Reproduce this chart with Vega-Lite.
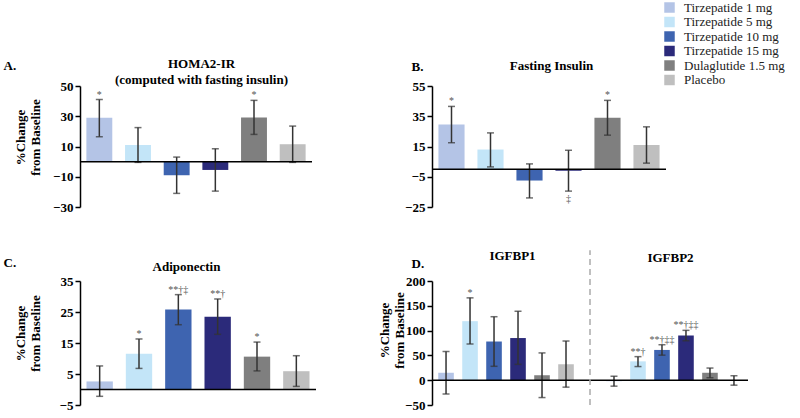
{
  "$schema": "https://vega.github.io/schema/vega-lite/v6.json",
  "autosize": {"type": "none"},
  "padding": {"left": 80, "top": 86, "right": 720, "bottom": 332},
  "background": "white",
  "datasets": {
    "homa": [
      {"treatment": "Tirzepatide 1 mg", "value": 29, "lo": 16.5, "hi": 41, "above": "*"},
      {"treatment": "Tirzepatide 5 mg", "value": 11, "lo": -0.5, "hi": 22.5, "above": ""},
      {"treatment": "Tirzepatide 10 mg", "value": -9, "lo": -21, "hi": 3, "above": ""},
      {"treatment": "Tirzepatide 15 mg", "value": -5.5, "lo": -19.5, "hi": 8.5, "above": ""},
      {"treatment": "Dulaglutide 1.5 mg", "value": 29.2, "lo": 18, "hi": 40.5, "above": "*"},
      {"treatment": "Placebo", "value": 11.5, "lo": -0.5, "hi": 23.5, "above": ""}
    ],
    "insulin": [
      {"treatment": "Tirzepatide 1 mg", "value": 29.5, "lo": 17.5, "hi": 41.5, "above": "*", "below": ""},
      {"treatment": "Tirzepatide 5 mg", "value": 13, "lo": 1.5, "hi": 24, "above": "", "below": ""},
      {"treatment": "Tirzepatide 10 mg", "value": -7.5, "lo": -19, "hi": 3.5, "above": "", "below": ""},
      {"treatment": "Tirzepatide 15 mg", "value": -1, "lo": -14.5, "hi": 12.5, "above": "", "below": "‡"},
      {"treatment": "Dulaglutide 1.5 mg", "value": 34, "lo": 22.5, "hi": 45.5, "above": "*", "below": ""},
      {"treatment": "Placebo", "value": 16, "lo": 4, "hi": 28, "above": "", "below": ""}
    ],
    "adipo": [
      {"treatment": "Tirzepatide 1 mg", "value": 2.6, "lo": -2.2, "hi": 7.6, "above": ""},
      {"treatment": "Tirzepatide 5 mg", "value": 11.5, "lo": 6.8, "hi": 16.3, "above": "*"},
      {"treatment": "Tirzepatide 10 mg", "value": 25.8, "lo": 20.9, "hi": 30.6, "above": "**†‡"},
      {"treatment": "Tirzepatide 15 mg", "value": 23.5, "lo": 17.8, "hi": 29.2, "above": "**†"},
      {"treatment": "Dulaglutide 1.5 mg", "value": 10.6, "lo": 6, "hi": 15.3, "above": "*"},
      {"treatment": "Placebo", "value": 5.9, "lo": 1, "hi": 10.9, "above": ""}
    ],
    "igfbp": [
      {"slot": "IGFBP1 Tirzepatide 1 mg", "treatment": "Tirzepatide 1 mg", "value": 15, "lo": -28, "hi": 58, "above": ""},
      {"slot": "IGFBP1 Tirzepatide 5 mg", "treatment": "Tirzepatide 5 mg", "value": 119, "lo": 73, "hi": 166, "above": "*"},
      {"slot": "IGFBP1 Tirzepatide 10 mg", "treatment": "Tirzepatide 10 mg", "value": 78, "lo": 28, "hi": 128, "above": ""},
      {"slot": "IGFBP1 Tirzepatide 15 mg", "treatment": "Tirzepatide 15 mg", "value": 85, "lo": 32, "hi": 139, "above": ""},
      {"slot": "IGFBP1 Dulaglutide 1.5 mg", "treatment": "Dulaglutide 1.5 mg", "value": 10, "lo": -35, "hi": 55, "above": ""},
      {"slot": "IGFBP1 Placebo", "treatment": "Placebo", "value": 32, "lo": -14, "hi": 79, "above": ""},
      {"slot": "IGFBP2 Tirzepatide 1 mg", "treatment": "Tirzepatide 1 mg", "value": -2, "lo": -12, "hi": 8, "above": ""},
      {"slot": "IGFBP2 Tirzepatide 5 mg", "treatment": "Tirzepatide 5 mg", "value": 38, "lo": 27.5, "hi": 47.5, "above": "**†"},
      {"slot": "IGFBP2 Tirzepatide 10 mg", "treatment": "Tirzepatide 10 mg", "value": 61, "lo": 50.5, "hi": 71.5, "above": "**†‡‡"},
      {"slot": "IGFBP2 Tirzepatide 15 mg", "treatment": "Tirzepatide 15 mg", "value": 90, "lo": 79.5, "hi": 100.5, "above": "**†‡‡"},
      {"slot": "IGFBP2 Dulaglutide 1.5 mg", "treatment": "Dulaglutide 1.5 mg", "value": 15, "lo": 5, "hi": 24.5, "above": ""},
      {"slot": "IGFBP2 Placebo", "treatment": "Placebo", "value": -1, "lo": -10, "hi": 9, "above": ""}
    ]
  },
  "columns": 2,
  "spacing": {"row": 74, "column": 116},
  "bounds": "flush",
  "resolve": {"scale": {"color": "shared"}, "legend": {"color": "shared"}},
  "concat": [
    {
      "width": 232, "height": 121,
      "data": {"name": "homa"},
      "resolve": {"axis": {"x": "independent", "y": "independent"}},
      "layer": [
        {"mark": {"type": "bar"},
         "encoding": {
           "x": {"field": "treatment", "type": "nominal", "sort": null,
                 "scale": {"domain": ["Tirzepatide 1 mg","Tirzepatide 5 mg","Tirzepatide 10 mg","Tirzepatide 15 mg","Dulaglutide 1.5 mg","Placebo"], "paddingInner": 0.33, "paddingOuter": 0.165},
                 "axis": {"orient": "top", "domain": false, "ticks": false, "labels": false, "title": "A.", "titleAngle": 0, "titleAlign": "left", "titleBaseline": "middle", "titleX": -77, "titleY": -21}},
           "y": {"field": "value", "type": "quantitative", "scale": {"domain": [-30, 50], "nice": false, "zero": false},
                 "axis": {"values": [-30, -10, 10, 30, 50], "labelOverlap": false, "title": ["%Change", "from Baseline"], "titleAngle": 270, "titleAlign": "center", "titleBaseline": "middle", "titleX": -60, "titleY": 51}},
           "color": {"field": "treatment", "type": "nominal",
                     "scale": {"domain": ["Tirzepatide 1 mg","Tirzepatide 5 mg","Tirzepatide 10 mg","Tirzepatide 15 mg","Dulaglutide 1.5 mg","Placebo"], "range": ["#b4c4e6","#c3e5f8","#3e64b0","#2b2a7a","#7f7f7f","#bfbfbf"]},
                     "legend": {"orient": "none", "legendX": 583, "legendY": -85, "title": null}}
         }},
        {"mark": {"type": "rule", "color": "#333", "strokeWidth": 1.5},
         "encoding": {
           "x": {"field": "treatment", "type": "nominal", "sort": null,
                 "axis": {"orient": "top", "domain": false, "ticks": false, "labels": false, "title": ["HOMA2-IR", "(computed with fasting insulin)"], "titleAngle": 0, "titleAlign": "center", "titleBaseline": "middle", "titleLineHeight": 16, "titleX": 121, "titleY": -23}},
           "y": {"field": "lo", "type": "quantitative", "axis": null},
           "y2": {"field": "hi"}
         }},
        {"mark": {"type": "tick", "color": "#333", "thickness": 1.5},
         "encoding": {"x": {"field": "treatment", "type": "nominal", "sort": null, "axis": null}, "y": {"field": "lo", "type": "quantitative", "axis": null}, "size": {"value": 7}}},
        {"mark": {"type": "tick", "color": "#333", "thickness": 1.5},
         "encoding": {"x": {"field": "treatment", "type": "nominal", "sort": null, "axis": null}, "y": {"field": "hi", "type": "quantitative", "axis": null}, "size": {"value": 7}}},
        {"data": {"values": [{}]}, "mark": {"type": "rule", "color": "#000", "strokeWidth": 1.5},
         "encoding": {"y": {"datum": 0, "type": "quantitative", "axis": null}}},
        {"mark": {"type": "text", "font": "Liberation Serif", "fontSize": 10, "color": "#555", "baseline": "alphabetic", "dy": -2},
         "encoding": {"x": {"field": "treatment", "type": "nominal", "sort": null, "axis": null}, "y": {"field": "hi", "type": "quantitative", "axis": null}, "text": {"field": "above"}}}
      ]
    },
    {
      "width": 234, "height": 121,
      "data": {"name": "insulin"},
      "resolve": {"axis": {"x": "independent", "y": "independent"}},
      "layer": [
        {"mark": {"type": "bar"},
         "encoding": {
           "x": {"field": "treatment", "type": "nominal", "sort": null,
                 "scale": {"domain": ["Tirzepatide 1 mg","Tirzepatide 5 mg","Tirzepatide 10 mg","Tirzepatide 15 mg","Dulaglutide 1.5 mg","Placebo"], "paddingInner": 0.33, "paddingOuter": 0.165},
                 "axis": {"orient": "top", "domain": false, "ticks": false, "labels": false, "title": "B.", "titleAngle": 0, "titleAlign": "left", "titleBaseline": "middle", "titleX": -21, "titleY": -20}},
           "y": {"field": "value", "type": "quantitative", "scale": {"domain": [-25, 55], "nice": false, "zero": false},
                 "axis": {"values": [-25, -5, 15, 35, 55], "labelOverlap": false, "title": null}},
           "color": {"field": "treatment", "type": "nominal",
                     "scale": {"domain": ["Tirzepatide 1 mg","Tirzepatide 5 mg","Tirzepatide 10 mg","Tirzepatide 15 mg","Dulaglutide 1.5 mg","Placebo"], "range": ["#b4c4e6","#c3e5f8","#3e64b0","#2b2a7a","#7f7f7f","#bfbfbf"]},
                     "legend": {"orient": "none", "legendX": 583, "legendY": -85, "title": null}}
         }},
        {"mark": {"type": "rule", "color": "#333", "strokeWidth": 1.5},
         "encoding": {
           "x": {"field": "treatment", "type": "nominal", "sort": null,
                 "axis": {"orient": "top", "domain": false, "ticks": false, "labels": false, "title": "Fasting Insulin", "titleAngle": 0, "titleAlign": "center", "titleBaseline": "middle", "titleX": 119, "titleY": -21}},
           "y": {"field": "lo", "type": "quantitative", "axis": null},
           "y2": {"field": "hi"}
         }},
        {"mark": {"type": "tick", "color": "#333", "thickness": 1.5},
         "encoding": {"x": {"field": "treatment", "type": "nominal", "sort": null, "axis": null}, "y": {"field": "lo", "type": "quantitative", "axis": null}, "size": {"value": 7}}},
        {"mark": {"type": "tick", "color": "#333", "thickness": 1.5},
         "encoding": {"x": {"field": "treatment", "type": "nominal", "sort": null, "axis": null}, "y": {"field": "hi", "type": "quantitative", "axis": null}, "size": {"value": 7}}},
        {"data": {"values": [{}]}, "mark": {"type": "rule", "color": "#000", "strokeWidth": 1.5},
         "encoding": {"y": {"datum": 0, "type": "quantitative", "axis": null}}},
        {"mark": {"type": "text", "font": "Liberation Serif", "fontSize": 10, "color": "#555", "baseline": "alphabetic", "dy": -2},
         "encoding": {"x": {"field": "treatment", "type": "nominal", "sort": null, "axis": null}, "y": {"field": "hi", "type": "quantitative", "axis": null}, "text": {"field": "above"}}},
        {"mark": {"type": "text", "font": "Liberation Serif", "fontSize": 10, "color": "#555", "baseline": "top", "dy": 3},
         "encoding": {"x": {"field": "treatment", "type": "nominal", "sort": null, "axis": null}, "y": {"field": "lo", "type": "quantitative", "axis": null}, "text": {"field": "below"}}}
      ]
    },
    {
      "width": 236, "height": 124,
      "data": {"name": "adipo"},
      "resolve": {"axis": {"x": "independent", "y": "independent"}},
      "layer": [
        {"mark": {"type": "bar"},
         "encoding": {
           "x": {"field": "treatment", "type": "nominal", "sort": null,
                 "scale": {"domain": ["Tirzepatide 1 mg","Tirzepatide 5 mg","Tirzepatide 10 mg","Tirzepatide 15 mg","Dulaglutide 1.5 mg","Placebo"], "paddingInner": 0.33, "paddingOuter": 0.165},
                 "axis": {"orient": "top", "domain": false, "ticks": false, "labels": false, "title": "C.", "titleAngle": 0, "titleAlign": "left", "titleBaseline": "middle", "titleX": -77, "titleY": -19}},
           "y": {"field": "value", "type": "quantitative", "scale": {"domain": [-5, 35], "nice": false, "zero": false},
                 "axis": {"values": [-5, 5, 15, 25, 35], "labelOverlap": false, "title": ["%Change", "from Baseline"], "titleAngle": 270, "titleAlign": "center", "titleBaseline": "middle", "titleX": -60, "titleY": 52}},
           "color": {"field": "treatment", "type": "nominal",
                     "scale": {"domain": ["Tirzepatide 1 mg","Tirzepatide 5 mg","Tirzepatide 10 mg","Tirzepatide 15 mg","Dulaglutide 1.5 mg","Placebo"], "range": ["#b4c4e6","#c3e5f8","#3e64b0","#2b2a7a","#7f7f7f","#bfbfbf"]},
                     "legend": {"orient": "none", "legendX": 583, "legendY": -85, "title": null}}
         }},
        {"mark": {"type": "rule", "color": "#333", "strokeWidth": 1.5},
         "encoding": {
           "x": {"field": "treatment", "type": "nominal", "sort": null,
                 "axis": {"orient": "top", "domain": false, "ticks": false, "labels": false, "title": "Adiponectin", "titleAngle": 0, "titleAlign": "center", "titleBaseline": "middle", "titleX": 106, "titleY": -15}},
           "y": {"field": "lo", "type": "quantitative", "axis": null},
           "y2": {"field": "hi"}
         }},
        {"mark": {"type": "tick", "color": "#333", "thickness": 1.5},
         "encoding": {"x": {"field": "treatment", "type": "nominal", "sort": null, "axis": null}, "y": {"field": "lo", "type": "quantitative", "axis": null}, "size": {"value": 7}}},
        {"mark": {"type": "tick", "color": "#333", "thickness": 1.5},
         "encoding": {"x": {"field": "treatment", "type": "nominal", "sort": null, "axis": null}, "y": {"field": "hi", "type": "quantitative", "axis": null}, "size": {"value": 7}}},
        {"data": {"values": [{}]}, "mark": {"type": "rule", "color": "#000", "strokeWidth": 1.5},
         "encoding": {"y": {"datum": 0, "type": "quantitative", "axis": null}}},
        {"mark": {"type": "text", "font": "Liberation Serif", "fontSize": 10, "color": "#555", "baseline": "alphabetic", "dy": -2},
         "encoding": {"x": {"field": "treatment", "type": "nominal", "sort": null, "axis": null}, "y": {"field": "hi", "type": "quantitative", "axis": null}, "text": {"field": "above"}}}
      ]
    },
    {
      "width": 316, "height": 124,
      "data": {"name": "igfbp"},
      "resolve": {"axis": {"x": "independent", "y": "independent"}},
      "layer": [
        {"mark": {"type": "bar"},
         "encoding": {
           "x": {"field": "slot", "type": "nominal", "sort": null,
                 "scale": {"domain": ["IGFBP1 Tirzepatide 1 mg","IGFBP1 Tirzepatide 5 mg","IGFBP1 Tirzepatide 10 mg","IGFBP1 Tirzepatide 15 mg","IGFBP1 Dulaglutide 1.5 mg","IGFBP1 Placebo","gap","IGFBP2 Tirzepatide 1 mg","IGFBP2 Tirzepatide 5 mg","IGFBP2 Tirzepatide 10 mg","IGFBP2 Tirzepatide 15 mg","IGFBP2 Dulaglutide 1.5 mg","IGFBP2 Placebo"], "paddingInner": 0.35, "paddingOuter": 0.26},
                 "axis": {"orient": "top", "domain": false, "ticks": false, "labels": false, "title": "IGFBP1", "titleAngle": 0, "titleAlign": "center", "titleBaseline": "middle", "titleX": 80, "titleY": -26}},
           "y": {"field": "value", "type": "quantitative", "scale": {"domain": [-50, 200], "nice": false, "zero": false},
                 "axis": {"values": [-50, 0, 50, 100, 150, 200], "labelOverlap": false, "title": ["%Change", "from Baseline"], "titleAngle": 270, "titleAlign": "center", "titleBaseline": "middle", "titleX": -48, "titleY": 49}},
           "color": {"field": "treatment", "type": "nominal",
                     "scale": {"domain": ["Tirzepatide 1 mg","Tirzepatide 5 mg","Tirzepatide 10 mg","Tirzepatide 15 mg","Dulaglutide 1.5 mg","Placebo"], "range": ["#b4c4e6","#c3e5f8","#3e64b0","#2b2a7a","#7f7f7f","#bfbfbf"]},
                     "legend": {"orient": "none", "legendX": 583, "legendY": -85, "title": null}}
         }},
        {"mark": {"type": "rule", "color": "#333", "strokeWidth": 1.5},
         "encoding": {
           "x": {"field": "slot", "type": "nominal", "sort": null,
                 "axis": {"orient": "top", "domain": false, "ticks": false, "labels": false, "title": "IGFBP2", "titleAngle": 0, "titleAlign": "center", "titleBaseline": "middle", "titleX": 238, "titleY": -24}},
           "y": {"field": "lo", "type": "quantitative", "axis": null},
           "y2": {"field": "hi"}
         }},
        {"mark": {"type": "tick", "color": "#333", "thickness": 1.5},
         "encoding": {"x": {"field": "slot", "type": "nominal", "sort": null,
                 "axis": {"orient": "bottom", "domain": false, "ticks": false, "labels": false, "title": "D.", "titleAngle": 0, "titleAlign": "left", "titleBaseline": "middle", "titleX": -21, "titleY": -142}},
                      "y": {"field": "lo", "type": "quantitative", "axis": null}, "size": {"value": 7}}},
        {"mark": {"type": "tick", "color": "#333", "thickness": 1.5},
         "encoding": {"x": {"field": "slot", "type": "nominal", "sort": null, "axis": null}, "y": {"field": "hi", "type": "quantitative", "axis": null}, "size": {"value": 7}}},
        {"data": {"values": [{}]}, "mark": {"type": "rule", "color": "#000", "strokeWidth": 1.5},
         "encoding": {"y": {"datum": 0, "type": "quantitative", "axis": null}}},
        {"data": {"values": [{}]}, "mark": {"type": "rule", "color": "#aaaaaa", "strokeWidth": 1.5, "strokeDash": [6, 4]},
         "encoding": {"x": {"datum": "gap", "type": "nominal", "axis": null}, "y": {"datum": -50, "type": "quantitative", "axis": null}, "y2": {"datum": 262}}},
        {"mark": {"type": "text", "font": "Liberation Serif", "fontSize": 10, "color": "#555", "baseline": "alphabetic", "dy": -2},
         "encoding": {"x": {"field": "slot", "type": "nominal", "sort": null, "axis": null}, "y": {"field": "hi", "type": "quantitative", "axis": null}, "text": {"field": "above"}}}
      ]
    }
  ],
  "config": {
    "view": {"stroke": null},
    "font": "Liberation Serif",
    "axis": {"labelFont": "Liberation Serif", "labelFontSize": 13, "labelFontWeight": "bold", "labelColor": "#000", "labelPadding": 2, "labelOverlap": false,
             "titleFont": "Liberation Serif", "titleFontSize": 13, "titleFontWeight": "bold", "titleColor": "#000",
             "domainColor": "#000", "domainWidth": 1.5, "tickColor": "#000", "tickWidth": 1.5, "tickSize": 5, "grid": false},
    "legend": {"symbolType": "square", "symbolSize": 110, "symbolStrokeWidth": 0, "labelFont": "Liberation Serif", "labelFontSize": 13,
               "labelColor": "#222", "labelOffset": 8, "rowPadding": 0.5, "padding": 0}
  }
}
